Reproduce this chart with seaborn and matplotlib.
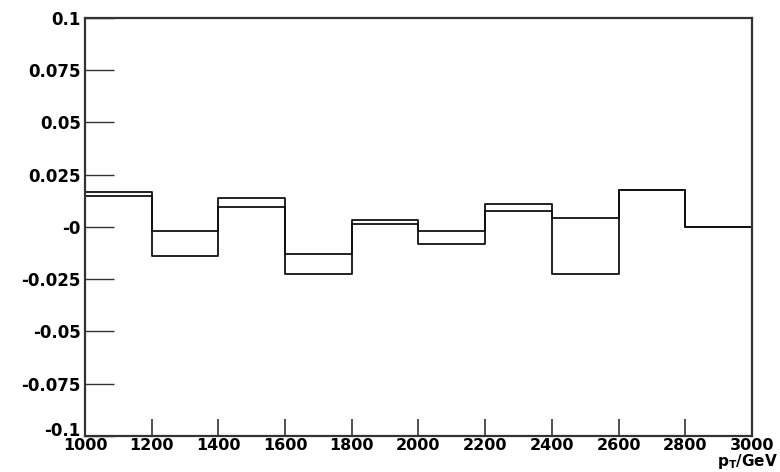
import numpy as np
import pandas as pd
import matplotlib
matplotlib.use("Agg")
import matplotlib.pyplot as plt
import seaborn as sns

# bin edges (GeV) and the two overlaid relative-difference histograms
edges = [1000, 1200, 1400, 1600, 1800, 2000, 2200, 2400, 2600, 2800, 3000]
hist_a = [0.0165, -0.0021, 0.0141, -0.0127, 0.0032, -0.0021, 0.0111, 0.0041, 0.0175, 0.0]
hist_b = [0.0150, -0.0137, 0.0095, -0.0225, 0.0016, -0.0080, 0.0075, -0.0227, 0.0175, 0.0]
yticks = [-0.1, -0.075, -0.05, -0.025, 0, 0.025, 0.05, 0.075, 0.1]
ylabels = ["-0.1", "-0.075", "-0.05", "-0.025", "-0", "0.025", "0.05", "0.075", "0.1"]

centers = [(edges[i] + edges[i + 1]) / 2 for i in range(len(edges) - 1)]
df = pd.DataFrame({
    "pt": centers * 2,
    "val": hist_a + hist_b,
    "h": ["a"] * len(hist_a) + ["b"] * len(hist_b),
})

sns.set_theme(style="white")
plt.rcParams["font.family"] = ["DejaVu Sans"]

fig = plt.figure(figsize=(7.8, 4.72), dpi=100)
ax = fig.add_axes([0.109, 0.0763, 0.855, 0.8856])

sns.histplot(data=df, x="pt", weights="val", hue="h", bins=edges,
             element="step", fill=False, palette=["#111111", "#111111"],
             linewidth=1.3, legend=False, ax=ax)

ax.set_xlim(1000, 3000)
ax.set_ylim(-0.1, 0.1)
ax.set_xticks(edges)
ax.set_xticklabels([str(e) for e in edges], fontsize=11.5, fontweight="bold")
ax.set_yticks(yticks)
ax.set_yticklabels(ylabels, fontsize=12, fontweight="bold")
ax.tick_params(axis="x", bottom=True, direction="in", length=12, width=1.2,
               pad=1.5, color="#333333", labelcolor="black")
ax.tick_params(axis="y", left=True, direction="in", length=21, width=1.0,
               pad=3, color="#333333", labelcolor="black")
# bottom label sits just above the corner like in the original
ax.get_yticklabels()[0].set_verticalalignment("baseline")
ax.set_ylabel("")
ax.set_xlabel("")
for s in ax.spines.values():
    s.set_visible(True)
    s.set_color("#333333")
    s.set_linewidth(1.6)

fig.text(0.997, 0.002, r"$\mathbf{p_{T}}$/GeV", ha="right", va="bottom",
         fontsize=11, fontweight="bold", color="black")

fig.savefig("out.png", dpi=100, facecolor="white")
